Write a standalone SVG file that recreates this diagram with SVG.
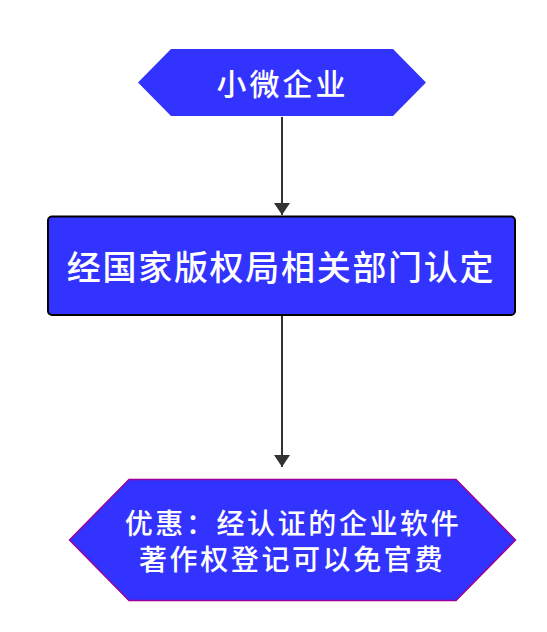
<svg xmlns="http://www.w3.org/2000/svg" width="547" height="632" viewBox="0 0 547 632">
<defs>
<style>
.lbl{font-family:"Noto Sans CJK SC","Liberation Sans",sans-serif;fill:#ffffff;text-anchor:middle;dominant-baseline:central;font-weight:500}
.edge{stroke:#333333;stroke-width:2;fill:none}
</style>
<marker id="arr" viewBox="0 0 12 16" refX="12" refY="8" markerWidth="12" markerHeight="16" markerUnits="userSpaceOnUse" orient="auto">
<path d="M0,0 L12,8 L0,16 Z" fill="#333333"/>
</marker>
</defs>
<rect width="547" height="632" fill="#ffffff"/>
<g id="connectors">
<line class="edge" x1="282" y1="117" x2="282" y2="215" marker-end="url(#arr)"/>
<line class="edge" x1="282" y1="316" x2="282" y2="467" marker-end="url(#arr)"/>
</g>
<g id="node-start">
<polygon points="171,49 393,49 426,82.5 393,116 171,116 138,82.5" fill="#3333ff"/>
<text class="lbl" x="282.5" y="82" font-size="30" letter-spacing="3">小微企业</text>
</g>
<g id="node-approve">
<rect x="48" y="216.5" width="467" height="98.5" rx="4" ry="4" fill="#3333ff" stroke="#000000" stroke-width="2"/>
<text class="lbl" x="281" y="265.5" font-size="34" letter-spacing="1.7">经国家版权局相关部门认定</text>
</g>
<g id="node-benefit">
<polygon points="129,479.5 456,479.5 515.5,540 456,600.5 129,600.5 69.5,540" fill="#3333ff" stroke="#990099" stroke-width="1.5"/>
<text class="lbl" x="293" y="521.5" font-size="28" letter-spacing="2.6">优惠：经认证的企业软件</text>
<text class="lbl" x="292" y="557.5" font-size="28" letter-spacing="2.6">著作权登记可以免官费</text>
</g>
</svg>
